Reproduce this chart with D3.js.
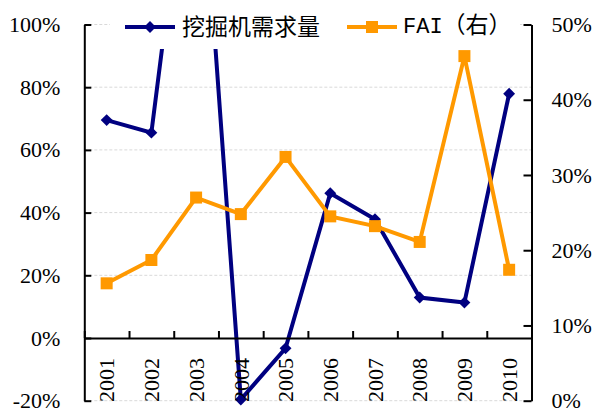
<!DOCTYPE html>
<html>
<head>
<meta charset="utf-8">
<script src="https://cdn.jsdelivr.net/npm/d3@7"></script>
<style>
  body { margin: 0; background: #fff; }
  svg { display: block; }
  .serif { font-family: "Liberation Serif", "Times New Roman", "DejaVu Serif", serif; font-size: 22px; }
  .cjk { font-family: "Noto Sans CJK SC", sans-serif; font-size: 23px; }
  .mono { font-family: "Liberation Mono", "DejaVu Sans Mono", monospace; font-size: 22px; }
</style>
</head>
<body>
<div id="chart"></div>
<script>
// data
var years = ["2001", "2002", "2003", "2004", "2005", "2006", "2007", "2008", "2009", "2010"];
var excavator = [69.5, 65.5, 178, -19.6, -3.3, 46.2, 37.9, 12.9, 11.3, 77.9];   // left axis, %
var fai = [15.6, 18.7, 27.0, 24.8, 32.4, 24.5, 23.2, 21.1, 45.8, 17.4];          // right axis, %
var leftTicks = [-20, 0, 20, 40, 60, 80, 100];
var rightTicks = [0, 10, 20, 30, 40, 50];

var width = 596, height = 410;
var plotLeft = 84.3, plotRight = 531.5, plotTop = 24.5, plotBottom = 400.7;

var svg = d3.select("#chart").append("svg")
    .attr("width", width)
    .attr("height", height);

var x = d3.scaleBand().domain(years).range([plotLeft, plotRight]);
var xi = d3.scaleLinear().domain([0, years.length]).range([plotLeft, plotRight]);
var yL = d3.scaleLinear().domain([-20, 100]).range([plotBottom, plotTop]);
var yR = d3.scaleLinear().domain([0, 50]).range([plotBottom, plotTop]);
var cx = function (d, i) { return x(years[i]) + x.bandwidth() / 2; };

// gridlines
svg.append("g")
    .selectAll("line")
    .data(leftTicks.filter(d => d != 0))
    .join("line")
    .attr("x1", plotLeft).attr("x2", plotRight)
    .attr("y1", d => yL(d)).attr("y2", d => yL(d))
    .attr("stroke", "#d9d9d9")
    .attr("stroke-width", 1)
    .attr("stroke-dasharray", "3,2");

// navy series
var lineL = d3.line().x(cx).y(d => yL(d));
svg.append("path")
    .datum(excavator)
    .attr("fill", "none")
    .attr("stroke", "#000080")
    .attr("stroke-width", 4)
    .attr("d", lineL);
svg.append("g")
    .selectAll("path")
    .data(excavator)
    .join("path")
    .attr("transform", (d, i) => "translate(" + cx(d, i) + "," + yL(d) + ")")
    .attr("d", d3.symbol(d3.symbolDiamond2 || d3.symbolDiamond, 90))
    .attr("fill", "#000080");

// orange series
var lineR = d3.line().x(cx).y(d => yR(d));
svg.append("path")
    .datum(fai)
    .attr("fill", "none")
    .attr("stroke", "#ff9900")
    .attr("stroke-width", 4)
    .attr("d", lineR);
svg.append("g")
    .selectAll("rect")
    .data(fai)
    .join("rect")
    .attr("x", (d, i) => cx(d, i) - 6)
    .attr("y", d => yR(d) - 6)
    .attr("width", 12).attr("height", 12)
    .attr("fill", "#ff9900");

// axes
var gL = svg.append("g")
    .attr("transform", "translate(" + plotLeft + ",0)")
    .call(d3.axisLeft(yL).tickValues(leftTicks).tickFormat(d => d + "%")
        .tickSizeInner(-7).tickSizeOuter(0).tickPadding(24));

var gR = svg.append("g")
    .attr("transform", "translate(" + plotRight + ",0)")
    .call(d3.axisRight(yR).tickValues(rightTicks).tickFormat(d => d + "%")
        .tickSizeInner(-8).tickSizeOuter(0).tickPadding(20));

var gX = svg.append("g")
    .attr("transform", "translate(0," + yL(0) + ")")
    .call(d3.axisTop(xi).ticks(years.length).tickFormat("")
        .tickSizeInner(7).tickSizeOuter(0));

[gL, gR, gX].forEach(function (g) {
    g.attr("font-family", null).attr("font-size", null);
    g.selectAll("path, line").attr("stroke", "#000").attr("stroke-width", 2);
    g.selectAll("text").attr("fill", "#000").attr("class", "serif");
});

// category labels, rotated, inside plot below zero line
svg.append("g")
    .selectAll("text")
    .data(years)
    .join("text")
    .attr("class", "serif")
    .attr("transform", (d, i) => "translate(" + cx(d, i) + ",358) rotate(-90)")
    .attr("text-anchor", "end")
    .attr("dy", "0.35em")
    .text(d => d);

// legend
var lg = svg.append("g");
lg.append("rect")
    .attr("x", 110).attr("y", 0)
    .attr("width", 410).attr("height", 49)
    .attr("fill", "#fff");

lg.append("line")
    .attr("x1", 125).attr("x2", 175).attr("y1", 27).attr("y2", 27)
    .attr("stroke", "#000080").attr("stroke-width", 4);
lg.append("path")
    .attr("transform", "translate(150,27)")
    .attr("d", d3.symbol(d3.symbolDiamond2 || d3.symbolDiamond, 90))
    .attr("fill", "#000080");
lg.append("text")
    .attr("class", "cjk")
    .attr("x", 182).attr("y", 27).attr("dy", "0.35em")
    .text("挖掘机需求量");

lg.append("line")
    .attr("x1", 347).attr("x2", 397).attr("y1", 27).attr("y2", 27)
    .attr("stroke", "#ff9900").attr("stroke-width", 4);
lg.append("rect")
    .attr("x", 366).attr("y", 21).attr("width", 12).attr("height", 12)
    .attr("fill", "#ff9900");
var t2 = lg.append("text")
    .attr("x", 403).attr("y", 27).attr("dy", "0.35em");
t2.append("tspan").attr("class", "mono").text("FAI");
t2.append("tspan").attr("class", "cjk").text("（右）");
</script>
</body>
</html>
